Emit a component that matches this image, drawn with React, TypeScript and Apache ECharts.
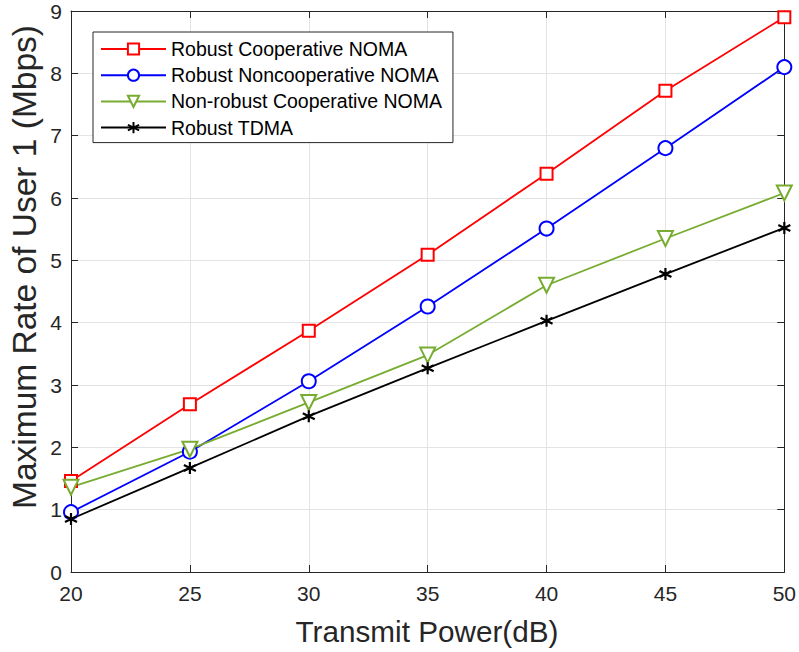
import React, { useEffect, useRef } from "react";
import * as echarts from "echarts";

const powers = [20, 25, 30, 35, 40, 45, 50];
const robustCoop = [1.46, 2.69, 3.87, 5.09, 6.39, 7.72, 8.9];
const robustNoncoop = [0.96, 1.93, 3.06, 4.26, 5.51, 6.8, 8.1];
const nonRobustCoop = [1.36, 1.97, 2.72, 3.48, 4.6, 5.35, 6.08];
const robustTdma = [0.85, 1.67, 2.5, 3.27, 4.03, 4.78, 5.52];
const seriesNames = [
  "Robust Cooperative NOMA",
  "Robust Noncooperative NOMA",
  "Non-robust Cooperative NOMA",
  "Robust TDMA",
];
const xTitle = "Transmit Power(dB)";
const yTitle = "Maximum Rate of User 1 (Mbps)";

const star = "path://M0,-5L0,5M-4.33,-2.5L4.33,2.5M-4.33,2.5L4.33,-2.5";

export default function App() {
  const ref = useRef<HTMLDivElement>(null);
  useEffect(() => {
    const chart = echarts.init(ref.current!, null, { renderer: "svg" });
    const font = "Liberation Sans, Arial, sans-serif";
    const axisColor = "#262626";
    const mk = (arr: number[]) => powers.map((p, i) => [p, arr[i]]);
    const axisBase = {
      type: "value" as const,
      axisLine: { show: true, onZero: false, lineStyle: { color: axisColor, width: 1 } },
      axisTick: { show: true, inside: true, length: 7, lineStyle: { color: axisColor } },
    };
    const mkSeries = (
      name: string,
      arr: number[],
      color: string,
      symbol: string,
      size: number,
      extra: any = {}
    ) => ({
      type: "line",
      name,
      data: mk(arr),
      color,
      symbol,
      symbolSize: size,
      showSymbol: true,
      itemStyle: { color, borderColor: color, borderWidth: 1.6 },
      lineStyle: { width: 1.8, color },
      ...extra,
    });
    chart.setOption({
      animation: false,
      backgroundColor: "#ffffff",
      grid: { left: 71, right: 13, top: 11, bottom: 80, show: false },
      legend: {
        show: true,
        orient: "vertical",
        left: 93,
        top: 32,
        padding: [7, 11, 5, 7],
        itemWidth: 65,
        itemHeight: 14,
        itemGap: 6.2,
        borderColor: "#262626",
        borderWidth: 1,
        backgroundColor: "#ffffff",
        textStyle: { fontFamily: font, fontSize: 19.5, lineHeight: 19, color: "#000" },
        data: seriesNames,
      },
      graphic: [
        {
          type: "text",
          x: 427,
          y: 631,
          style: {
            text: xTitle,
            fontFamily: font,
            fontSize: 29.7,
            fill: axisColor,
            align: "center",
            verticalAlign: "middle",
          },
        },
        {
          type: "text",
          x: 24,
          y: 267,
          rotation: Math.PI / 2,
          style: {
            text: yTitle,
            fontFamily: font,
            fontSize: 33.5,
            fill: axisColor,
            align: "center",
            verticalAlign: "middle",
          },
        },
      ],
      xAxis: [
        {
          ...axisBase,
          min: 20,
          max: 50,
          interval: 5,
          axisLabel: { fontFamily: font, fontSize: 21, color: axisColor, margin: 11 },
          splitLine: { show: true, lineStyle: { color: "#e3e3e3", width: 1 } },
        },
        {
          ...axisBase,
          position: "top",
          min: 20,
          max: 50,
          interval: 5,
          axisLabel: { show: false },
          splitLine: { show: false },
        },
      ],
      yAxis: [
        {
          ...axisBase,
          min: 0,
          max: 9,
          interval: 1,
          axisLabel: { fontFamily: font, fontSize: 21, color: axisColor, margin: 9 },
          splitLine: { show: true, lineStyle: { color: "#e3e3e3", width: 1 } },
        },
        {
          ...axisBase,
          position: "right",
          min: 0,
          max: 9,
          interval: 1,
          axisLabel: { show: false },
          splitLine: { show: false },
        },
      ],
      series: [
        mkSeries(seriesNames[0], robustCoop, "#ff0000", "emptyRect", 12),
        mkSeries(seriesNames[1], robustNoncoop, "#0000ff", "emptyCircle", 14),
        mkSeries(seriesNames[2], nonRobustCoop, "#77ac30", "emptyTriangle", 15, {
          symbolRotate: 180,
        }),
        mkSeries(seriesNames[3], robustTdma, "#000000", star, 12, {
          itemStyle: { color: "#000000", borderColor: "#000000", borderWidth: 2.2 },
        }),
      ],
    });
    return () => chart.dispose();
  }, []);
  return (
    <div
      ref={ref}
      style={{ position: "absolute", left: 0, top: 0, width: 799, height: 652 }}
    />
  );
}
